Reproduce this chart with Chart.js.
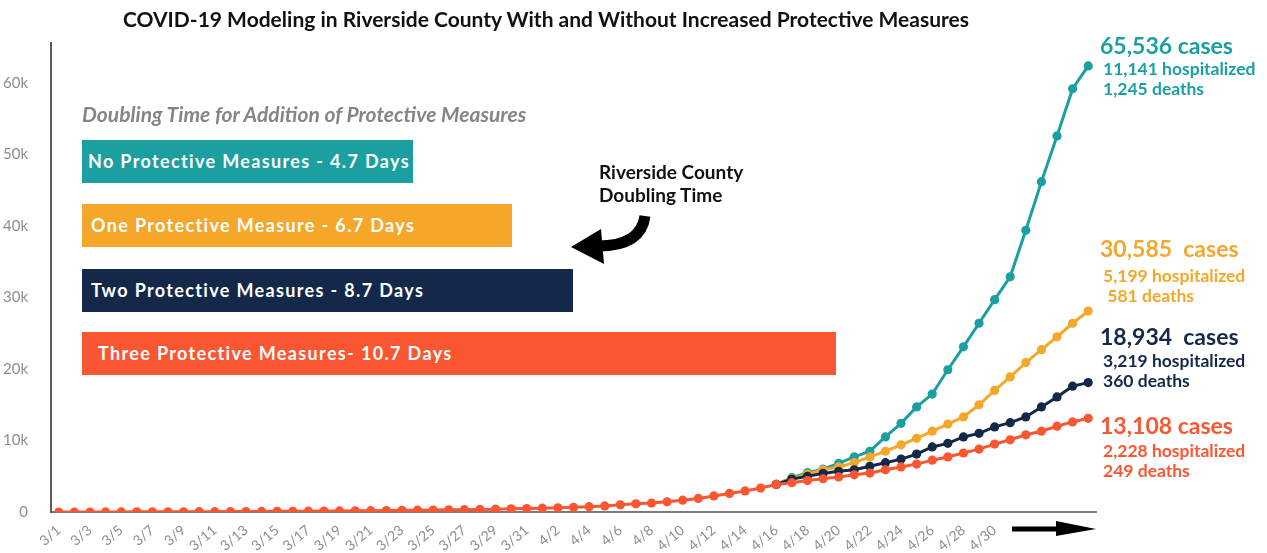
<!DOCTYPE html>
<html>
<head>
<meta charset="utf-8">
<script src="https://cdn.jsdelivr.net/npm/chart.js@4.4.1/dist/chart.umd.min.js"></script>
<style>
  body { margin: 0; background: #fff; font-family: Lato, "Noto Sans", sans-serif; }
  #wrap { position: relative; width: 1267px; height: 553px; overflow: hidden; }
  #chart { position: absolute; left: 0; top: 0; }
  .t { position: absolute; white-space: nowrap; line-height: 1; }
  .title { left: 0; width: 1092px; top: 8px; text-align: center; font-size: 21px; font-weight: 700; color: #111; }
  .sub { left: 82px; top: 103px; font-size: 21px; font-style: italic; font-weight: 700; color: #858585; }
  .box { position: absolute; left: 82px; height: 43px; color: #fff; font-size: 18px; font-weight: 700;
         letter-spacing: 1.35px; line-height: 43px; box-sizing: border-box; }
  .note { left: 599px; top: 160px; font-size: 19px; font-weight: 700; color: #111; line-height: 23px; }
  .big { font-size: 23px; font-weight: 700; }
  .small { font-size: 17.5px; font-weight: 700; line-height: 20px; }
</style>
</head>
<body>
<div id="wrap">
  <canvas id="chart" width="1267" height="553"></canvas>
  <div class="t title">COVID-19 Modeling in Riverside County With and Without Increased Protective Measures</div>
  <div class="t sub">Doubling Time for Addition of Protective Measures</div>
  <div class="box" style="top:140px;width:331px;background:#1b9fa1;padding-left:6px">No Protective Measures - 4.7 Days</div>
  <div class="box" style="top:204px;width:430px;background:#f4a72b;padding-left:9px">One Protective Measure - 6.7 Days</div>
  <div class="box" style="top:269px;width:491px;background:#14294a;padding-left:9px">Two Protective Measures - 8.7 Days</div>
  <div class="box" style="top:332px;width:754px;background:#fb5632;padding-left:16px">Three Protective Measures- 10.7 Days</div>
  <div class="t note">Riverside County<br>Doubling Time</div>

  <div class="t big" style="left:1100px;top:34px;color:#1b9fa1">65,536 cases</div>
  <div class="t small" style="left:1103px;top:59px;color:#1b9fa1">11,141 hospitalized<br>1,245 deaths</div>
  <div class="t big" style="left:1100px;top:237px;color:#f4a72b">30,585&nbsp; cases</div>
  <div class="t small" style="left:1103px;top:266px;color:#f4a72b">5,199 hospitalized<br>&nbsp;581 deaths</div>
  <div class="t big" style="left:1100px;top:325px;color:#14294a">18,934&nbsp; cases</div>
  <div class="t small" style="left:1103px;top:351px;color:#14294a">3,219 hospitalized<br>360 deaths</div>
  <div class="t big" style="left:1100px;top:414px;color:#fb5632">13,108 cases</div>
  <div class="t small" style="left:1103px;top:441px;color:#fb5632">2,228 hospitalized<br>249 deaths</div>
</div>
<script>
// every day from 3/1 to 5/6
const days = [
  '3/1','3/2','3/3','3/4','3/5','3/6','3/7','3/8','3/9','3/10','3/11','3/12','3/13','3/14','3/15','3/16',
  '3/17','3/18','3/19','3/20','3/21','3/22','3/23','3/24','3/25','3/26','3/27','3/28','3/29','3/30','3/31',
  '4/1','4/2','4/3','4/4','4/5','4/6','4/7','4/8','4/9','4/10','4/11','4/12','4/13','4/14','4/15','4/16',
  '4/17','4/18','4/19','4/20','4/21','4/22','4/23','4/24','4/25','4/26','4/27','4/28','4/29','4/30',
  '5/1','5/2','5/3','5/4','5/5','5/6'
];
// the three other scenarios branch off on 4/16
const branchDays = [
  '4/16','4/17','4/18','4/19','4/20','4/21','4/22','4/23','4/24','4/25','4/26','4/27','4/28','4/29','4/30',
  '5/1','5/2','5/3','5/4','5/5','5/6'
];

const threeMeasures = [
  0, 0, 0, 10, 10, 20, 20, 30, 30, 40,
  50, 60, 70, 80, 90, 100, 110, 130, 150, 170,
  190, 210, 230, 250, 280, 300, 330, 360, 400, 440,
  490, 540, 590, 650, 750, 850, 1000, 1150, 1250, 1420,
  1650, 1900, 2250, 2600, 2950, 3350, 3850, 4100, 4400, 4650,
  4900, 5200, 5450, 5900, 6300, 6700, 7250, 7700, 8250, 8800,
  9500, 10100, 10800, 11300, 12000, 12600, 13108
];
const twoMeasures = [3850, 4600, 5000, 5400, 5700, 5900, 6400, 6900, 7400, 8100, 9100,
  9600, 10500, 11000, 11900, 12500, 13300, 14700, 16100, 17600, 18100];
const oneMeasure = [3850, 4700, 5300, 5900, 6300, 6900, 7700, 8500, 9400, 10300, 11300,
  12300, 13300, 15000, 17000, 18900, 20900, 22700, 24500, 26400, 28100];
const noMeasures = [3850, 4800, 5500, 6000, 6800, 7700, 8500, 10500, 12400, 14700, 16500,
  19900, 23100, 26400, 29700, 32900, 39400, 46200, 52600, 59200, 62400];

const xTickLabels = [
  '3/1','3/3','3/5','3/7','3/9','3/11','3/13','3/15','3/17','3/19','3/21','3/23','3/25','3/27','3/29','3/31',
  '4/2','4/4','4/6','4/8','4/10','4/12','4/14','4/16','4/18','4/20','4/22','4/24','4/26','4/28','4/30'
];
const yTicks = [0, 10000, 20000, 30000, 40000, 50000, 60000];

const colors = { none: '#1b9fa1', one: '#f4a72b', two: '#14294a', three: '#fb5632' };

const branch = (vals) => branchDays.map((d, i) => ({ x: d, y: vals[i] }));

const line = (label, data, color) => ({
  label, data,
  borderColor: color, backgroundColor: color,
  borderWidth: 3, pointRadius: 4.6, pointBorderWidth: 0,
  pointBackgroundColor: color, tension: 0
});

// curved "doubling time" arrow and the arrow after 4/30
const arrows = {
  id: 'arrows',
  afterDraw(chart) {
    const ctx = chart.ctx;
    ctx.save();
    ctx.fillStyle = '#000';
    ctx.strokeStyle = '#000';
    ctx.lineWidth = 11;
    ctx.lineCap = 'butt';
    ctx.beginPath();
    ctx.moveTo(645, 216);
    ctx.quadraticCurveTo(641, 246, 598, 246);
    ctx.stroke();
    ctx.beginPath();
    ctx.moveTo(571, 247);
    ctx.lineTo(601, 229);
    ctx.lineTo(604, 264);
    ctx.closePath();
    ctx.fill();

    ctx.lineWidth = 5;
    ctx.beginPath();
    ctx.moveTo(1012, 529);
    ctx.lineTo(1060, 529);
    ctx.stroke();
    ctx.beginPath();
    ctx.moveTo(1056, 521);
    ctx.lineTo(1096, 529);
    ctx.lineTo(1056, 536);
    ctx.closePath();
    ctx.fill();
    ctx.restore();
  }
};

new Chart(document.getElementById('chart'), {
  type: 'line',
  data: {
    labels: days,
    datasets: [
      line('Three Protective Measures', threeMeasures, colors.three),
      line('Two Protective Measures', branch(twoMeasures), colors.two),
      line('One Protective Measure', branch(oneMeasure), colors.one),
      line('No Protective Measures', branch(noMeasures), colors.none)
    ]
  },
  options: {
    responsive: false,
    animation: false,
    layout: { padding: { top: 43, right: 171, left: 0, bottom: 0 } },
    plugins: { legend: { display: false }, tooltip: { enabled: false } },
    scales: {
      x: {
        offset: true,
        grid: { display: false },
        border: { display: true, color: '#7a7a7a', width: 2 },
        afterFit: (s) => { s.height = 41; },
        ticks: {
          autoSkip: false, minRotation: 40, maxRotation: 40, padding: 2,
          color: '#8e8e8e', font: { family: 'Lato', size: 14 },
          callback: (v, i) => xTickLabels.includes(days[i]) ? days[i] : ''
        }
      },
      y: {
        min: 0, max: 65600,
        grid: { display: false },
        border: { display: true, color: '#5a5a5a', width: 2 },
        afterFit: (s) => { s.width = 51; },
        afterBuildTicks: (s) => { s.ticks = yTicks.map(v => ({ value: v })); },
        ticks: {
          padding: 15, color: '#8e8e8e', font: { family: 'Lato', size: 15 },
          callback: (v) => v === 0 ? '0' : (v / 1000) + 'k'
        }
      }
    }
  },
  plugins: [arrows]
});
</script>
</body>
</html>
